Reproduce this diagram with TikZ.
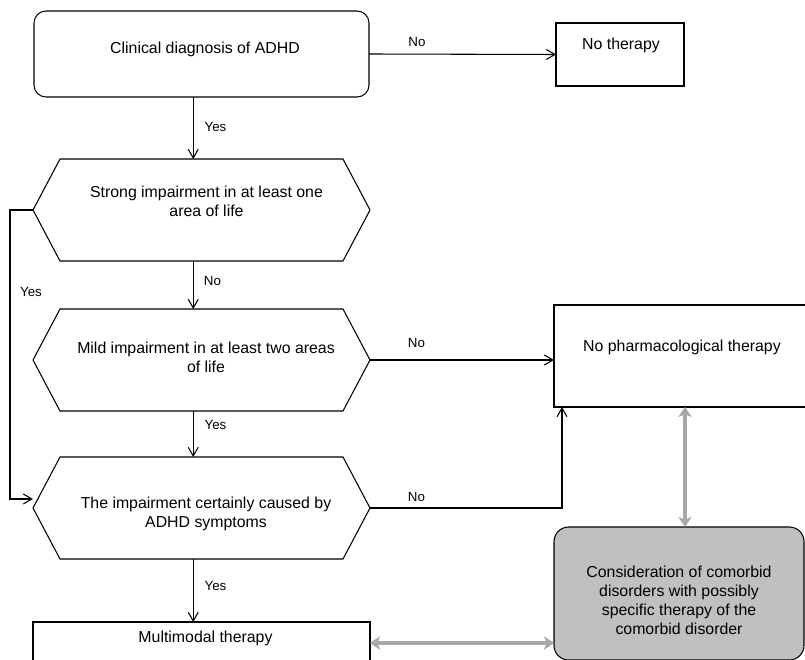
\documentclass[tikz,border=0pt]{standalone}
\usepackage{fontspec}
\setmainfont{Liberation Sans}
\usetikzlibrary{arrows.meta}

\definecolor{arrowgray}{RGB}{168,168,168}
\definecolor{boxgray}{RGB}{192,192,192}

\tikzset{
  box/.style={draw, line width=0.8pt, inner sep=0pt, outer sep=0pt},
  hexbox/.style={inner sep=0pt, outer sep=0pt, minimum width=252.75pt, minimum height=76.5pt},
  boxtext/.style={align=center, inner sep=0pt, font=\fontsize{11.9pt}{14.25pt}\selectfont},
  lbl/.style={inner sep=0pt, font=\fontsize{10pt}{12pt}\selectfont},
  flow/.style={line width=0.8pt, -{Straight Barb[length=6.5pt,width=7.5pt]}},
  grayflow/.style={draw=arrowgray, line width=2.6pt, {Stealth[length=7.5pt,width=10pt,inset=2pt]}-{Stealth[length=7.5pt,width=10pt,inset=2pt]}}
}

\begin{document}
\begin{tikzpicture}[x=0.75pt,y=0.75pt,yscale=-1,xscale=1]
\useasboundingbox (0,0) rectangle (805,659);
\clip (0,0) rectangle (805,659);

%Shapes
\node[box, rounded corners=9pt, minimum width=251.25pt, minimum height=64.5pt] (diag) at (201.5,54) {};
\node[box, minimum width=96pt, minimum height=47.25pt] (nother) at (620,54.5) {};
\node[hexbox] (strong) at (201.5,210) {};
\node[hexbox] (mild) at (201.5,360) {};
\node[hexbox] (cause) at (201.5,508) {};
\node[box, minimum width=252.75pt, minimum height=31.5pt] (multi) at (201.5,643) {};
\node[box, minimum width=190.5pt, minimum height=76.5pt] (nopharm) at (681,356) {};
\node[box, fill=boxgray, rounded corners=11pt, minimum width=187.5pt, minimum height=99.75pt] (comorb) at (679,593.5) {};

%Hexagons
\foreach \h in {strong,mild,cause}
  \draw[line width=0.8pt] (\h.west) -- ([xshift=20.25pt]\h.north west) -- ([xshift=-20.25pt]\h.north east) -- (\h.east) -- ([xshift=-20.25pt]\h.south east) -- ([xshift=20.25pt]\h.south west) -- cycle;

% Text Node
\node[boxtext] (diagtext) at (205,49) {Clinical diagnosis of ADHD};
% Text Node
\node[boxtext] (nothertext) at (621,45) {No therapy};
% Text Node
\node[boxtext] (strongtext) at (206.5,201) {Strong impairment in at least one\\area of life};
% Text Node
\node[boxtext] (mildtext) at (206,357) {Mild impairment in at least two areas\\of life};
% Text Node
\node[boxtext] (causetext) at (206,513.5) {The impairment certainly caused by\\ADHD symptoms};
% Text Node
\node[boxtext] (multitext) at (205.5,638.5) {Multimodal therapy};
% Text Node
\node[boxtext] (nopharmtext) at (682,347) {No pharmacological therapy};
% Text Node
\node[boxtext] (comorbtext) at (679,600.5) {Consideration of comorbid\\disorders with possibly\\specific therapy of the\\comorbid disorder};

%Straight Lines
\draw[flow] (diag.east) -- (nother.west);
\draw[flow] ([xshift=-6.2pt]diag.south) -- ([xshift=-6.2pt]strong.north);
\draw[flow] ([xshift=-6.2pt]strong.south) -- ([xshift=-6.2pt]mild.north);
\draw[flow] ([xshift=-6.2pt]mild.south) -- ([xshift=-6.2pt]cause.north);
\draw[flow] ([xshift=-6.2pt]cause.south) -- ([xshift=-6.2pt]multi.north);
\draw[flow] (strong.west) -- ++(-17.25pt,0) |- ([yshift=-6.75pt]cause.west);
\draw[flow] (mild.east) -- (mild.east -| nopharm.west);
\draw[flow] (cause.east) -| ([xshift=6pt]nopharm.south west);

%Double Arrows
\draw[grayflow] ([xshift=3pt]nopharm.south) -- ([xshift=3pt]nopharm.south |- comorb.north);
\draw[grayflow] (multi.east) -- (multi.east -| comorb.west);

% Text Node
\node[lbl] (no1) at (417,41.5) {No};
% Text Node
\node[lbl] (yes1) at (215.5,126.5) {Yes};
% Text Node
\node[lbl] (no2) at (212.5,280.5) {No};
% Text Node
\node[lbl] (yes2) at (31,292) {Yes};
% Text Node
\node[lbl] (yes3) at (215.5,424.5) {Yes};
% Text Node
\node[lbl] (yes4) at (215.5,585.5) {Yes};
% Text Node
\node[lbl] (no3) at (416.5,343) {No};
% Text Node
\node[lbl] (no4) at (416.5,496.7) {No};

\end{tikzpicture}
\end{document}
